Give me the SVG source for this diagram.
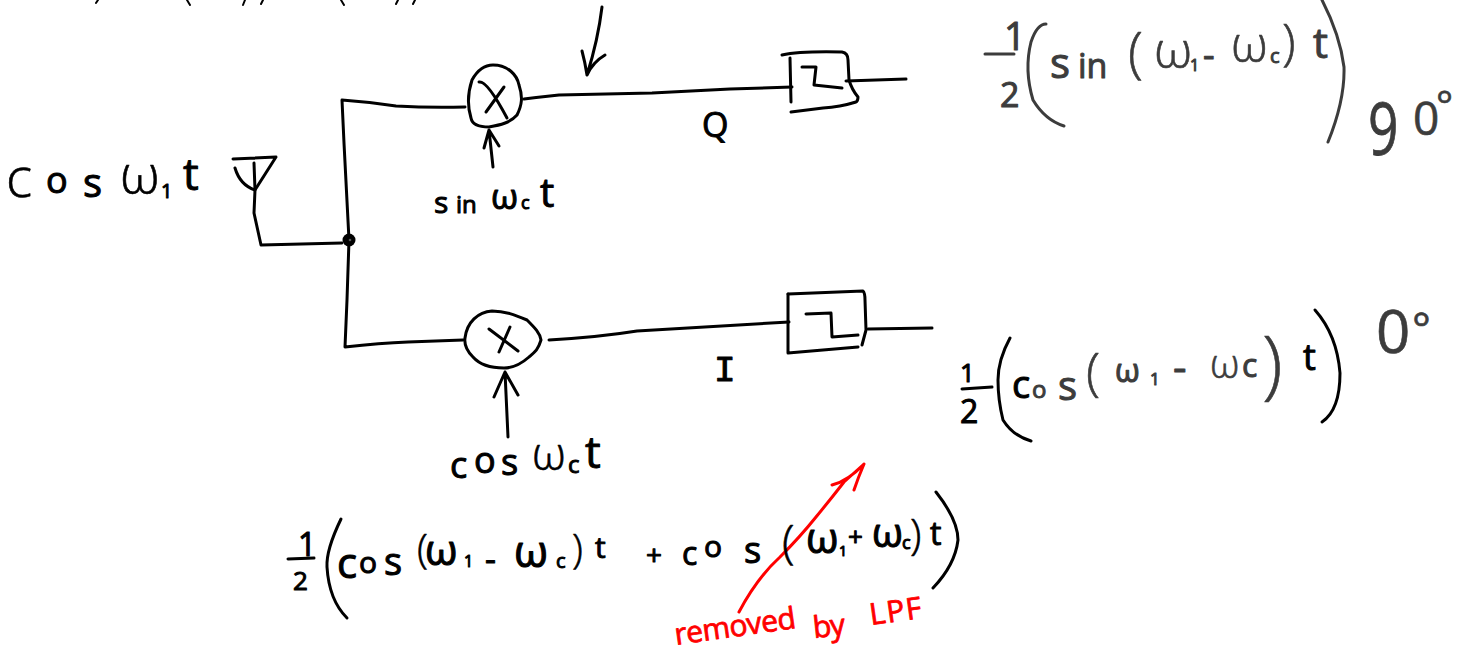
<svg xmlns="http://www.w3.org/2000/svg" width="1460" height="651" viewBox="0 0 1460 651">
<style>
.s{fill:none;stroke:#000;stroke-width:3;stroke-linecap:round;stroke-linejoin:round}
.g{stroke:#3c3c3c}
.r{stroke:#f00}
text{font-family:"Open Sans","DejaVu Sans",sans-serif;fill:#000;stroke:#000;stroke-width:1;stroke-linejoin:round}
text.tg{fill:#3c3c3c;stroke:#3c3c3c}
text.tr{fill:#f00;stroke:#f00;stroke-width:.8;font-size:30px}
.l{font-weight:300;stroke-width:.6}
</style>
<rect width="1460" height="651" fill="#fff"/>
<g id="connectors">
<path class="s" d="M254 163L255 190L254 213L261 245L342 243"/>
<path class="s" d="M465 107Q430 108 396 106Q370 102 342 100L344 143L349 240L347 300L345 347Q380 343 408 342L463 340"/>
<path class="s" d="M524 99Q540 97 559 95L652 93L730 89L792 87"/>
<path class="s" d="M846 81L906 79"/>
<path class="s" d="M549 340Q600 337 637 331L789 322"/>
<path class="s" d="M868 329L932 328"/>
<path class="s" d="M493 167L489 130M484 148L489 130L499 146"/>
<path class="s" d="M508 437L505 372M494 397L505 372L518 395"/>
<path class="s" d="M602 7Q598 40 587 75M582 51Q585 62 587 75Q593 62 605 55"/>
<path class="s r" d="M739 612Q757 578 780 557Q800 537 816 517Q830 500 844 482L864 464M832 485Q848 481 864 464Q858 478 854 490"/>
</g>
<g id="antenna"><path class="s" d="M233 159L276 157L255 190Q240 185 235 168"/></g>
<g id="junction"><circle cx="349" cy="240" r="6.5" fill="#000"/><circle cx="350" cy="240" r="1.3" fill="#555"/></g>
<g id="mixer-q">
<path class="s" d="M493 65C508 65 517 75 519 85C523 97 522 105 517 115C510 123 500 125 489 127C478 127 472 124 471 118C467 105 468 92 472 80C477 71 484 65 493 65Z"/>
<path class="s" d="M479 82Q487 80 507 118M504 87L486 112"/>
</g>
<g id="mixer-i">
<path class="s" d="M465 338C467 322 478 312 492 311C505 311 515 315 527 320C535 328 540 333 541 340C538 350 535 352 529 357C520 365 512 368 504 368C490 368 480 365 473 357C467 351 464 345 465 338Z"/>
<path class="s" d="M489 329L518 351M510 327L499 352"/>
</g>
<g id="lpf-q">
<path class="s" d="M782 55Q800 51 842 52Q848 53 848 60L849 80Q852 90 858 97Q858 101 856 102Q840 107 823 108L791 112"/>
<path class="s" d="M790 58L791 102"/>
<path class="s" d="M802 67L816 67L814 85L842 88"/>
</g>
<g id="lpf-i">
<path class="s" d="M788 294L863 291Q865 293 865 300L866 330L862 345"/>
<path class="s" d="M788 294L788 353L858 347"/>
<path class="s" d="M806 314L831 313L832 337L858 335"/>
</g>
<g id="labels">
<text><tspan class="l" x="6" y="197" font-size="55">c</tspan><tspan x="46" y="193" font-size="36">o</tspan><tspan x="83" y="197" font-size="40">s</tspan><tspan> </tspan><tspan class="l" x="120" y="193" font-size="54">ω</tspan><tspan x="161" y="198" font-size="20">1</tspan><tspan x="183" y="190" font-size="44">t</tspan></text>
<text><tspan x="434" y="213" font-size="30">s</tspan><tspan x="456" y="213" font-size="24">in</tspan><tspan> </tspan><tspan x="491" y="209" font-size="35">ω</tspan><tspan x="521" y="209" font-size="18">c</tspan><tspan x="540" y="207" font-size="40">t</tspan></text>
<text x="450 474 501" y="478 473 475" font-size="36">cos<tspan> </tspan><tspan class="l" x="532" y="470" font-size="46">ω</tspan><tspan x="568" y="473" font-size="24">c</tspan><tspan x="585" y="468" font-size="44">t</tspan></text>
<text x="702" y="137" font-size="34">Q</text>
<text x="714" y="381" font-size="36" style="font-family:'Liberation Mono',monospace">I</text>

<text id="eq-mix"><tspan x="298" y="556" font-size="32">1</tspan><tspan x="293" y="590" font-size="26">2</tspan><tspan x="337" y="578" font-size="42">c</tspan><tspan x="359" y="573" font-size="30">o</tspan><tspan x="384" y="575" font-size="38">s</tspan><tspan class="l" x="417" y="563" font-size="40">(</tspan><tspan x="425" y="565" font-size="42">ω</tspan><tspan x="464" y="567" font-size="16">1</tspan><tspan x="485" y="571" font-size="34">-</tspan><tspan x="514" y="567" font-size="44">ω</tspan><tspan x="556" y="568" font-size="20">c</tspan><tspan class="l" x="572" y="563" font-size="40">)</tspan><tspan x="595" y="558" font-size="30">t</tspan><tspan> </tspan><tspan x="646" y="565" font-size="28">+</tspan><tspan x="682" y="565" font-size="32">c</tspan><tspan x="704" y="557" font-size="30">o</tspan><tspan x="744" y="563" font-size="36">s</tspan><tspan class="l" x="782" y="558" font-size="46">(</tspan><tspan x="806" y="553" font-size="42">ω</tspan><tspan x="839" y="556" font-size="14">1</tspan><tspan x="848" y="546" font-size="26">+</tspan><tspan x="872" y="547" font-size="40">ω</tspan><tspan x="902" y="549" font-size="18">c</tspan><tspan class="l" x="910" y="549" font-size="42">)</tspan><tspan x="930" y="545" font-size="32">t</tspan></text>

<text class="tg"><tspan x="1004" y="50" font-size="38">1</tspan><tspan x="1000" y="107" font-size="34">2</tspan><tspan x="1050" y="78" font-size="42">s</tspan><tspan x="1078" y="78" font-size="34">in</tspan><tspan> </tspan><tspan class="l" x="1128" y="72" font-size="55">(</tspan><tspan class="l" x="1154" y="68" font-size="52">ω</tspan><tspan x="1190" y="71" font-size="16">1</tspan><tspan x="1203" y="68" font-size="36">-</tspan><tspan class="l" x="1231" y="62" font-size="50">ω</tspan><tspan x="1270" y="63" font-size="20">c</tspan><tspan class="l" x="1282" y="60" font-size="50">)</tspan><tspan x="1313" y="58" font-size="42">t</tspan></text>
<text class="tg" transform="translate(1368 155) scale(.72 1)" font-size="74" style="stroke-width:.8">9</text>
<text class="tg" x="1413" y="135" font-size="46" style="stroke-width:.6">0<tspan x="1436" y="120" font-size="40">°</tspan></text>
<text><tspan x="960" y="382" font-size="26">1</tspan><tspan x="960" y="423" font-size="32">2</tspan><tspan x="1012" y="398" font-size="38">c</tspan></text>
<text class="tg"><tspan x="1032" y="398" font-size="24">o</tspan><tspan x="1058" y="400" font-size="40">s</tspan><tspan class="l" x="1086" y="390" font-size="52">(</tspan><tspan x="1115" y="382" font-size="32">ω</tspan><tspan x="1150" y="385" font-size="17">1</tspan><tspan> </tspan><tspan x="1173" y="382" font-size="42">-</tspan><tspan> </tspan><tspan class="l" x="1210" y="378" font-size="40">ω</tspan><tspan x="1242" y="377" font-size="32">c</tspan><tspan> </tspan><tspan class="l" x="1262" y="390" font-size="76">)</tspan></text>
<text x="1303" y="370" font-size="36">t</text>
<text class="tg" x="1376" y="353" font-size="60" style="stroke-width:.6">0<tspan x="1412" y="344" font-size="44">°</tspan></text>
<text class="tr" transform="rotate(-8 676 645)" x="676" y="645" textLength="122">removed</text>
<text class="tr" transform="rotate(-6 814 638)" x="814" y="638" textLength="32">by</text>
<text class="tr" transform="rotate(-8 871 625)" x="871" y="625" textLength="52">LPF</text>
</g>
<g id="delimiters">
<path class="s" d="M288 559L314 558"/>
<path class="s" d="M341 519Q326 550 327 567Q329 600 347 618"/>
<path class="s" d="M936 492Q958 520 958 540Q955 565 933 588"/>
<path class="s g" d="M985 54L1014 54"/>
<path class="s g" d="M1046 24Q1037 24 1031 42Q1024 70 1033 100Q1045 120 1064 126"/>
<path class="s g" d="M1322 0Q1340 35 1344 67Q1345 100 1328 142"/>
<path class="s" d="M962 389L992 387"/>
<path class="s" d="M1010 338Q998 360 998 380Q998 400 1003 420Q1013 436 1031 441"/>
<path class="s" d="M1315 310Q1337 335 1340 373Q1340 410 1322 422"/>
</g>
<g id="clipped-marks">
<path class="s" style="stroke-width:2" d="M98 0L96 3M187 0L190 5M245 0L243 5M263 0L261 4M341 0L344 5M398 0L396 4M415 0L413 4"/>
</g>
</svg>
